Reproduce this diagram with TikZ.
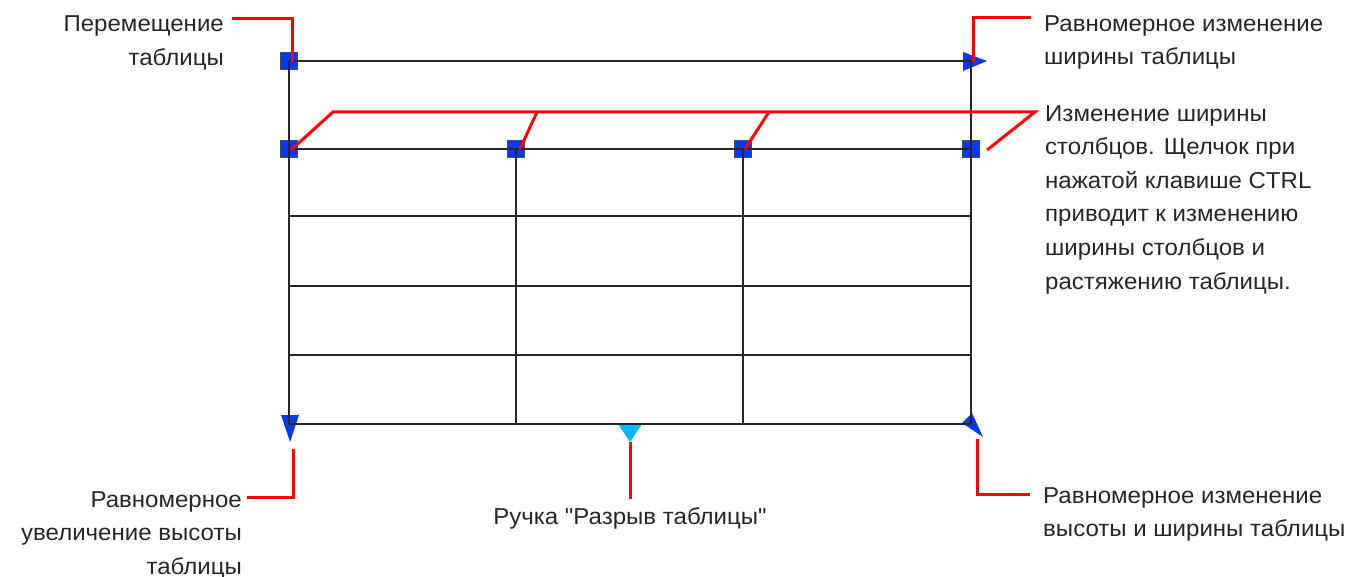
\documentclass[tikz,border=0pt]{standalone}
\usepackage{fontspec}
\setmainfont{Liberation Sans}[FakeStretch=1.045, Ligatures=TeXOff]
\usetikzlibrary{calc}

\definecolor{gripblue}{RGB}{0,56,255}
\definecolor{gripcyan}{RGB}{0,185,255}
\definecolor{notegray}{RGB}{38,38,38}

\tikzset{
        grip/.style = {draw=black!70, line width=1.2pt, fill=gripblue, minimum size=17pt, inner sep=0pt},
        gridline/.style = {draw=black!85, line width=1.3pt},
        leader/.style = {draw=red, line width=3pt},
        notetext/.style = {inner sep=0pt, text=notegray, font=\fontsize{23}{33.6}\selectfont}
    }

\begin{document}
\begin{tikzpicture}[x=1pt, y=-1pt]
            \useasboundingbox (0,0) rectangle (1358,577);

            % grips under the grid
            \node[grip] (moveGrip) at (289,61) {};
            \foreach \x/\n in {289/A,516/B,743/C,971/D}
                \node[grip] (col\n) at (\x,149) {};
            \coordinate (widthGrip) at (971,61);
            \fill[gripblue] (963,52) -- (987,61) -- (963,71) -- cycle;
            \coordinate (heightGrip) at (290,430);
            \fill[gripblue] (281,415) -- (299,415) -- (290,442) -- cycle;
            \coordinate (breakGrip) at (630,433);
            \fill[gripcyan] (618,424) -- (642,424) -- (630,442) -- cycle;
            \coordinate (bothGrip) at (972,424);
            \fill[gripblue] (962,423) -- (972,413) -- (983,437) -- cycle;

            % table
            \draw[gridline] (moveGrip.center) -- (widthGrip);
            \draw[gridline] (moveGrip.center) -- (289,424) -- (971,424) -- (widthGrip);
            \foreach \y in {149,216,286,355}
                \draw[gridline] (289,\y) -- (971,\y);
            \foreach \n in {B,C}
                \draw[gridline] (col\n.center) -- (col\n.center |- 0,424);

            % texts
            \node[notetext, anchor=north east, align=right] (moveText) at (224,15.5) {Перемещение\\таблицы};
            \node[notetext, anchor=north west, align=left] (widthText) at (1044,15) {Равномерное изменение\\ширины таблицы};
            \node[notetext, anchor=north west, align=left] (colText) at (1045,105) {Изменение ширины\\столбцов. Щелчок при\\нажатой клавише CTRL\\приводит к изменению\\ширины столбцов и\\растяжению таблицы.};
            \node[notetext, anchor=north east, align=right] (heightText) at (242,491) {Равномерное\\увеличение высоты\\таблицы};
            \node[notetext, anchor=base] (breakText) at (630,524) {Ручка "Разрыв таблицы"};
            \node[notetext, anchor=north west, align=left] (bothText) at (1043,487) {Равномерное изменение\\высоты и ширины таблицы};

            % leaders
            \coordinate (moveEnd) at (232,19);
            \draw[leader] (moveEnd) -- (292,19) -- ($(moveGrip.center)+(3,1)$);
            \coordinate (widthEnd) at (1031,18);
            \draw[leader] (widthEnd) -- (973,18) -- ($(widthGrip)+(2,1)$);
            \coordinate (colEnd) at (987,150);
            \draw[leader] ($(colA.center)+(2,1)$) -- (333,112) -- (1035,112) -- (colEnd);
            \draw[leader] ($(colB.center)+(4,0)$) -- (537,112);
            \draw[leader] ($(colC.center)+(2,0)$) -- (769,112);
            \coordinate (heightEnd) at (247,497);
            \draw[leader] (heightEnd) -- (293,497) -- (293,449);
            \draw[leader] (630,442) -- (630,499) coordinate (breakEnd);
            \coordinate (bothEnd) at (1030,494);
            \draw[leader] (bothEnd) -- (977,494) -- (977,439);

        \end{tikzpicture}
\end{document}
